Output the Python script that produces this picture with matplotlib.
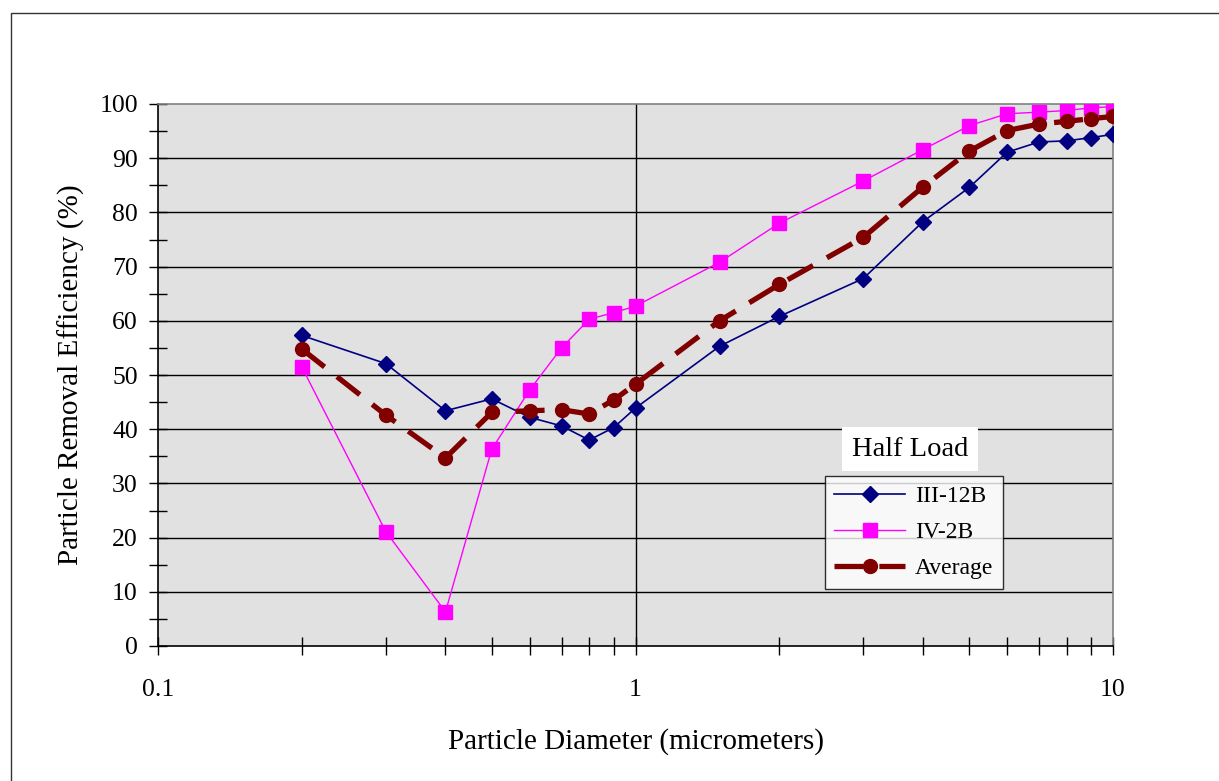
import matplotlib.pyplot as plt
from matplotlib.patches import Rectangle
from matplotlib.ticker import FixedLocator, NullFormatter

plt.rcParams['font.family'] = ['Liberation Serif', 'DejaVu Serif']

# particle sizes (micrometers)
diam = [0.2, 0.3, 0.4, 0.5, 0.6, 0.7, 0.8, 0.9, 1.0, 1.5, 2, 3, 4, 5, 6, 7, 8, 9, 10]

# removal efficiency (%) for each filter and their average
eff_iii12b = [57.3, 52.1, 43.4, 45.6, 42.2, 40.6, 38.0, 40.3, 43.9, 55.3, 60.8,
              67.8, 78.3, 84.6, 91.1, 93.0, 93.2, 93.8, 94.4]
eff_iv2b = [51.5, 21.1, 6.3, 36.3, 47.2, 55.0, 60.3, 61.5, 62.7, 70.8, 78.0,
            85.8, 91.6, 96.0, 98.2, 98.5, 98.8, 99.3, 99.5]
eff_avg = [54.8, 42.6, 34.7, 43.1, 43.4, 43.6, 42.8, 45.4, 48.3, 60.0, 66.7,
           75.4, 84.7, 91.3, 95.1, 96.3, 96.8, 97.3, 97.7]

fig = plt.figure(figsize=(12.19, 7.81), dpi=100)
ax = fig.add_axes([158/1219, 1 - 646/781, (1113-158)/1219, (646-104)/781])

# outer frame (only the top and left edges fall inside the image)
fig.patches.append(Rectangle((11/1219, -0.1), 1.2, 1 - 13/781 + 0.1,
                             transform=fig.transFigure, fill=False,
                             edgecolor='#333333', linewidth=1.0))

ax.set_facecolor('#e1e1e1')
ax.set_xscale('log')
ax.set_xlim(0.1, 10)
ax.set_ylim(0, 100)

# horizontal grid every 10 %, vertical at decades
for yv in range(10, 100, 10):
    ax.axhline(yv, color='black', linewidth=1.0, zorder=1)
ax.axvline(1, color='black', linewidth=1.0, zorder=1)

ax.plot(diam, eff_iii12b, color='#000080', linewidth=1.2, marker='D',
        markersize=8.5, label='III-12B', zorder=3)
ax.plot(diam, eff_iv2b, color='#ff00ff', linewidth=1.0, marker='s',
        markersize=9.5, label='IV-2B', zorder=3)
ax.plot(diam, eff_avg, color='#800000', linewidth=3.8, marker='o',
        markersize=10, dashes=(5.5, 3), label='Average', zorder=4)

ax.xaxis.set_major_locator(FixedLocator([0.1, 1, 10]))
ax.set_xticklabels(['0.1', '1', '10'])
minors = [m * d for d in (0.1, 1) for m in range(2, 10)]
ax.xaxis.set_minor_locator(FixedLocator(minors))
ax.xaxis.set_minor_formatter(NullFormatter())
ax.set_yticks(range(0, 101, 10))
ax.yaxis.set_minor_locator(FixedLocator(range(5, 100, 10)))

ax.tick_params(axis='both', which='both', direction='inout', length=13,
               width=1.0, labelsize=18.5)
ax.tick_params(axis='x', which='major', pad=17)
ax.tick_params(axis='y', which='major', pad=8)

for side in ('left', 'bottom'):
    ax.spines[side].set_color('black')
    ax.spines[side].set_linewidth(1.2)
for side in ('top', 'right'):
    ax.spines[side].set_color('#808080')
    ax.spines[side].set_linewidth(1.2)

ax.set_xlabel('Particle Diameter (micrometers)', fontsize=21, labelpad=20)
ax.set_ylabel('Particle Removal Efficiency (%)', fontsize=21, labelpad=10)

leg = ax.legend(loc='upper left', bbox_to_anchor=((825-158)/955, (646-476)/542),
                fontsize=17, frameon=True, fancybox=False, edgecolor='black',
                borderaxespad=0, handlelength=3.0, handletextpad=0.4,
                labelspacing=0.62, borderpad=0.4)
leg.get_frame().set_linewidth(1.0)

ax.text((910-158)/955, (646-449)/542, 'Half Load', transform=ax.transAxes,
        ha='center', va='center', fontsize=20.5,
        bbox=dict(facecolor='white', edgecolor='none', pad=7))

fig.savefig('out.png', dpi=100)
